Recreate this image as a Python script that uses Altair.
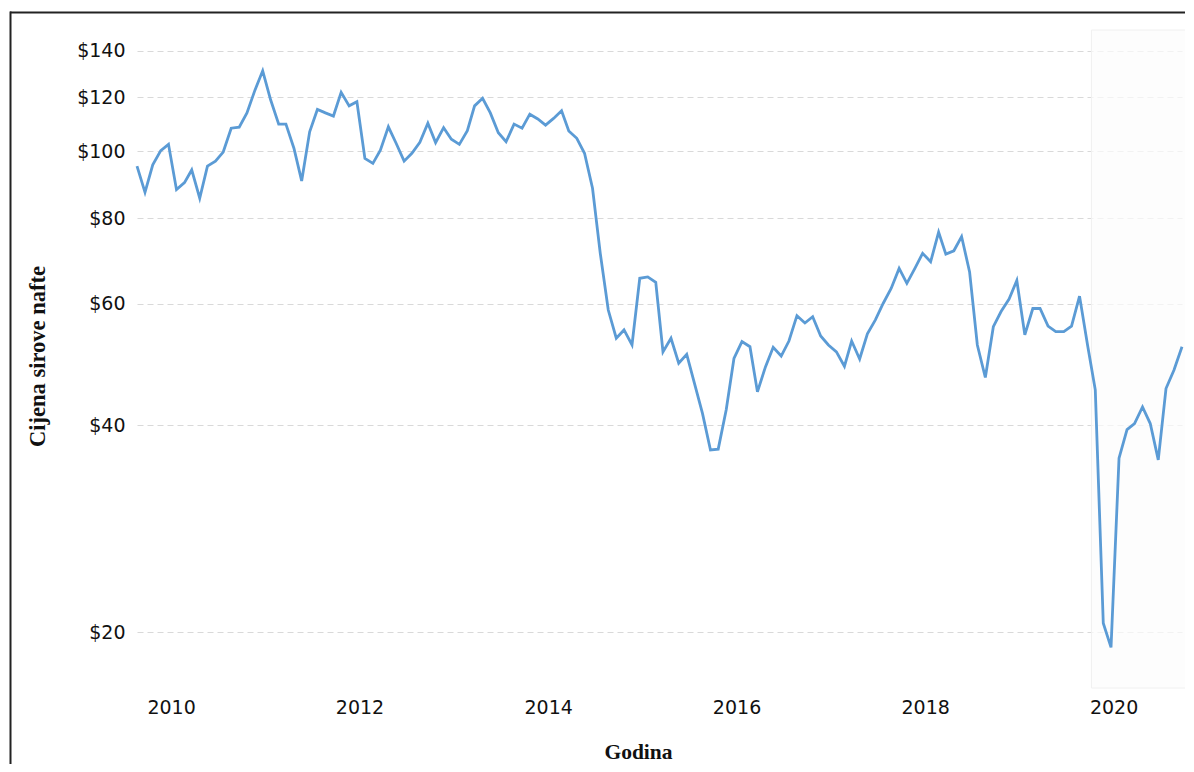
import altair as alt
import pandas as pd

# Monthly crude oil price, first point ~ late Aug 2009
prices = [
    95.2, 87.2, 95.6, 100.3, 102.4, 88.0, 90.1, 94.0, 85.5, 95.2,
    96.8, 99.8, 108.1, 108.5, 113.8, 122.8, 131.0, 118.8, 109.6, 109.6,
    101.1, 90.6, 106.8, 115.1, 113.8, 112.6, 121.9, 116.5, 118.1, 97.7,
    96.1, 100.4, 108.6, 102.8, 96.8, 99.4, 103.1, 109.9, 103.0, 108.3,
    104.2, 102.4, 107.2, 116.5, 119.5, 113.8, 106.5, 103.3, 109.6, 108.1,
    113.3, 111.5, 109.2, 111.7, 114.6, 107.1, 104.5, 99.4, 88.4, 71.1,
    58.8, 53.5, 55.0, 52.3, 65.4, 65.7, 64.5, 51.1, 53.5, 49.2,
    50.7, 46.0, 41.6, 36.8, 36.9, 42.1, 50.0, 52.9, 52.0, 44.7,
    48.6, 51.9, 50.4, 53.0, 57.7, 56.3, 57.5, 53.9, 52.3, 51.1,
    48.7, 53.0, 49.9, 54.3, 56.9, 60.1, 63.2, 67.6, 64.3, 67.6,
    71.1, 69.1, 76.3, 70.9, 71.7, 75.2, 66.8, 52.3, 46.9, 55.6,
    58.5, 61.0, 64.9, 54.1, 59.1, 59.1, 55.7, 54.7, 54.7, 55.7,
    61.6, 52.3, 45.0, 20.6, 19.0, 35.8, 39.4, 40.2, 42.5, 40.2,
    35.6, 45.2, 48.1, 52.0,
]
first_month = "2009-08-01"
day_offset = 21
year_ticks = [2010, 2012, 2014, 2016, 2018, 2020]
price_ticks = [20, 40, 60, 80, 100, 120, 140]
price_domain = [16.58, 150.2]
shade_start = ["2019-10-07"]

dates = pd.date_range(first_month, periods=len(prices), freq="MS") + pd.Timedelta(days=day_offset)
df = pd.DataFrame({"datum": dates, "cijena": prices})
x_domain = [dates[0].isoformat(), dates[-1].isoformat()]

W, H = 1045, 658

x_scale = alt.Scale(domain=x_domain, nice=False)
y_scale = alt.Scale(type="log", domain=price_domain, nice=False)

shade = alt.Chart(pd.DataFrame({"start": pd.to_datetime(shade_start)})).mark_rect(
    fill="#fcfcfc", fillOpacity=0.7, stroke="#f0f0f0", strokeWidth=1
).encode(
    x=alt.X("start:T", scale=x_scale),
    x2=alt.value(W + 4),
    y=alt.value(0),
    y2=alt.value(H),
)

line = alt.Chart(df).mark_line(color="#5b9bd5", strokeWidth=2.8).encode(
    x=alt.X(
        "datum:T",
        scale=x_scale,
        title="Godina",
        axis=alt.Axis(
            values=[alt.DateTime(year=y, month=1, date=1) for y in year_ticks],
            format="%Y",
            grid=False,
            domain=False,
            ticks=False,
            tickSize=0,
            labelPadding=10,
            labelFont="DejaVu Sans",
            labelFontSize=19,
            labelColor="#111111",
            titleFont="Liberation Serif",
            titleFontSize=21.5,
            titleFontWeight="bold",
            titleColor="#111111",
            titleX=501,
            titleY=64,
            titleAlign="center",
            titleBaseline="middle",
        ),
    ),
    y=alt.Y(
        "cijena:Q",
        scale=y_scale,
        title="Cijena sirove nafte",
        axis=alt.Axis(
            values=price_ticks,
            format="$.0f",
            grid=True,
            gridColor="#d9d9d9",
            gridDash=[6, 4],
            gridWidth=1.2,
            domain=False,
            ticks=False,
            tickSize=0,
            labelPadding=12,
            labelFont="DejaVu Sans",
            labelFontSize=19,
            labelColor="#111111",
            titleFont="Liberation Serif",
            titleFontSize=22.5,
            titleFontWeight="bold",
            titleColor="#111111",
            titleAngle=-90,
            titleX=-100,
            titleY=326,
            titleAlign="center",
            titleBaseline="middle",
        ),
    ),
)

frame_src = pd.DataFrame({"k": [0]})
frame_top = alt.Chart(frame_src).mark_rule(color="#222222", strokeWidth=2).encode(
    x=alt.value(-127), x2=alt.value(W + 20), y=alt.value(-17.5)
)
frame_left = alt.Chart(frame_src).mark_rule(color="#222222", strokeWidth=2).encode(
    x=alt.value(-126.5), y=alt.value(-18.5), y2=alt.value(H + 120)
)

chart = alt.layer(shade, line, frame_top, frame_left).properties(
    width=W,
    height=H,
    autosize=alt.AutoSizeParams(type="none"),
    padding={"left": 129, "top": 22, "right": 3, "bottom": 76},
    background="white",
).configure_view(stroke=None)

chart.save("out.html", embed_options={"renderer": "svg", "actions": False})
